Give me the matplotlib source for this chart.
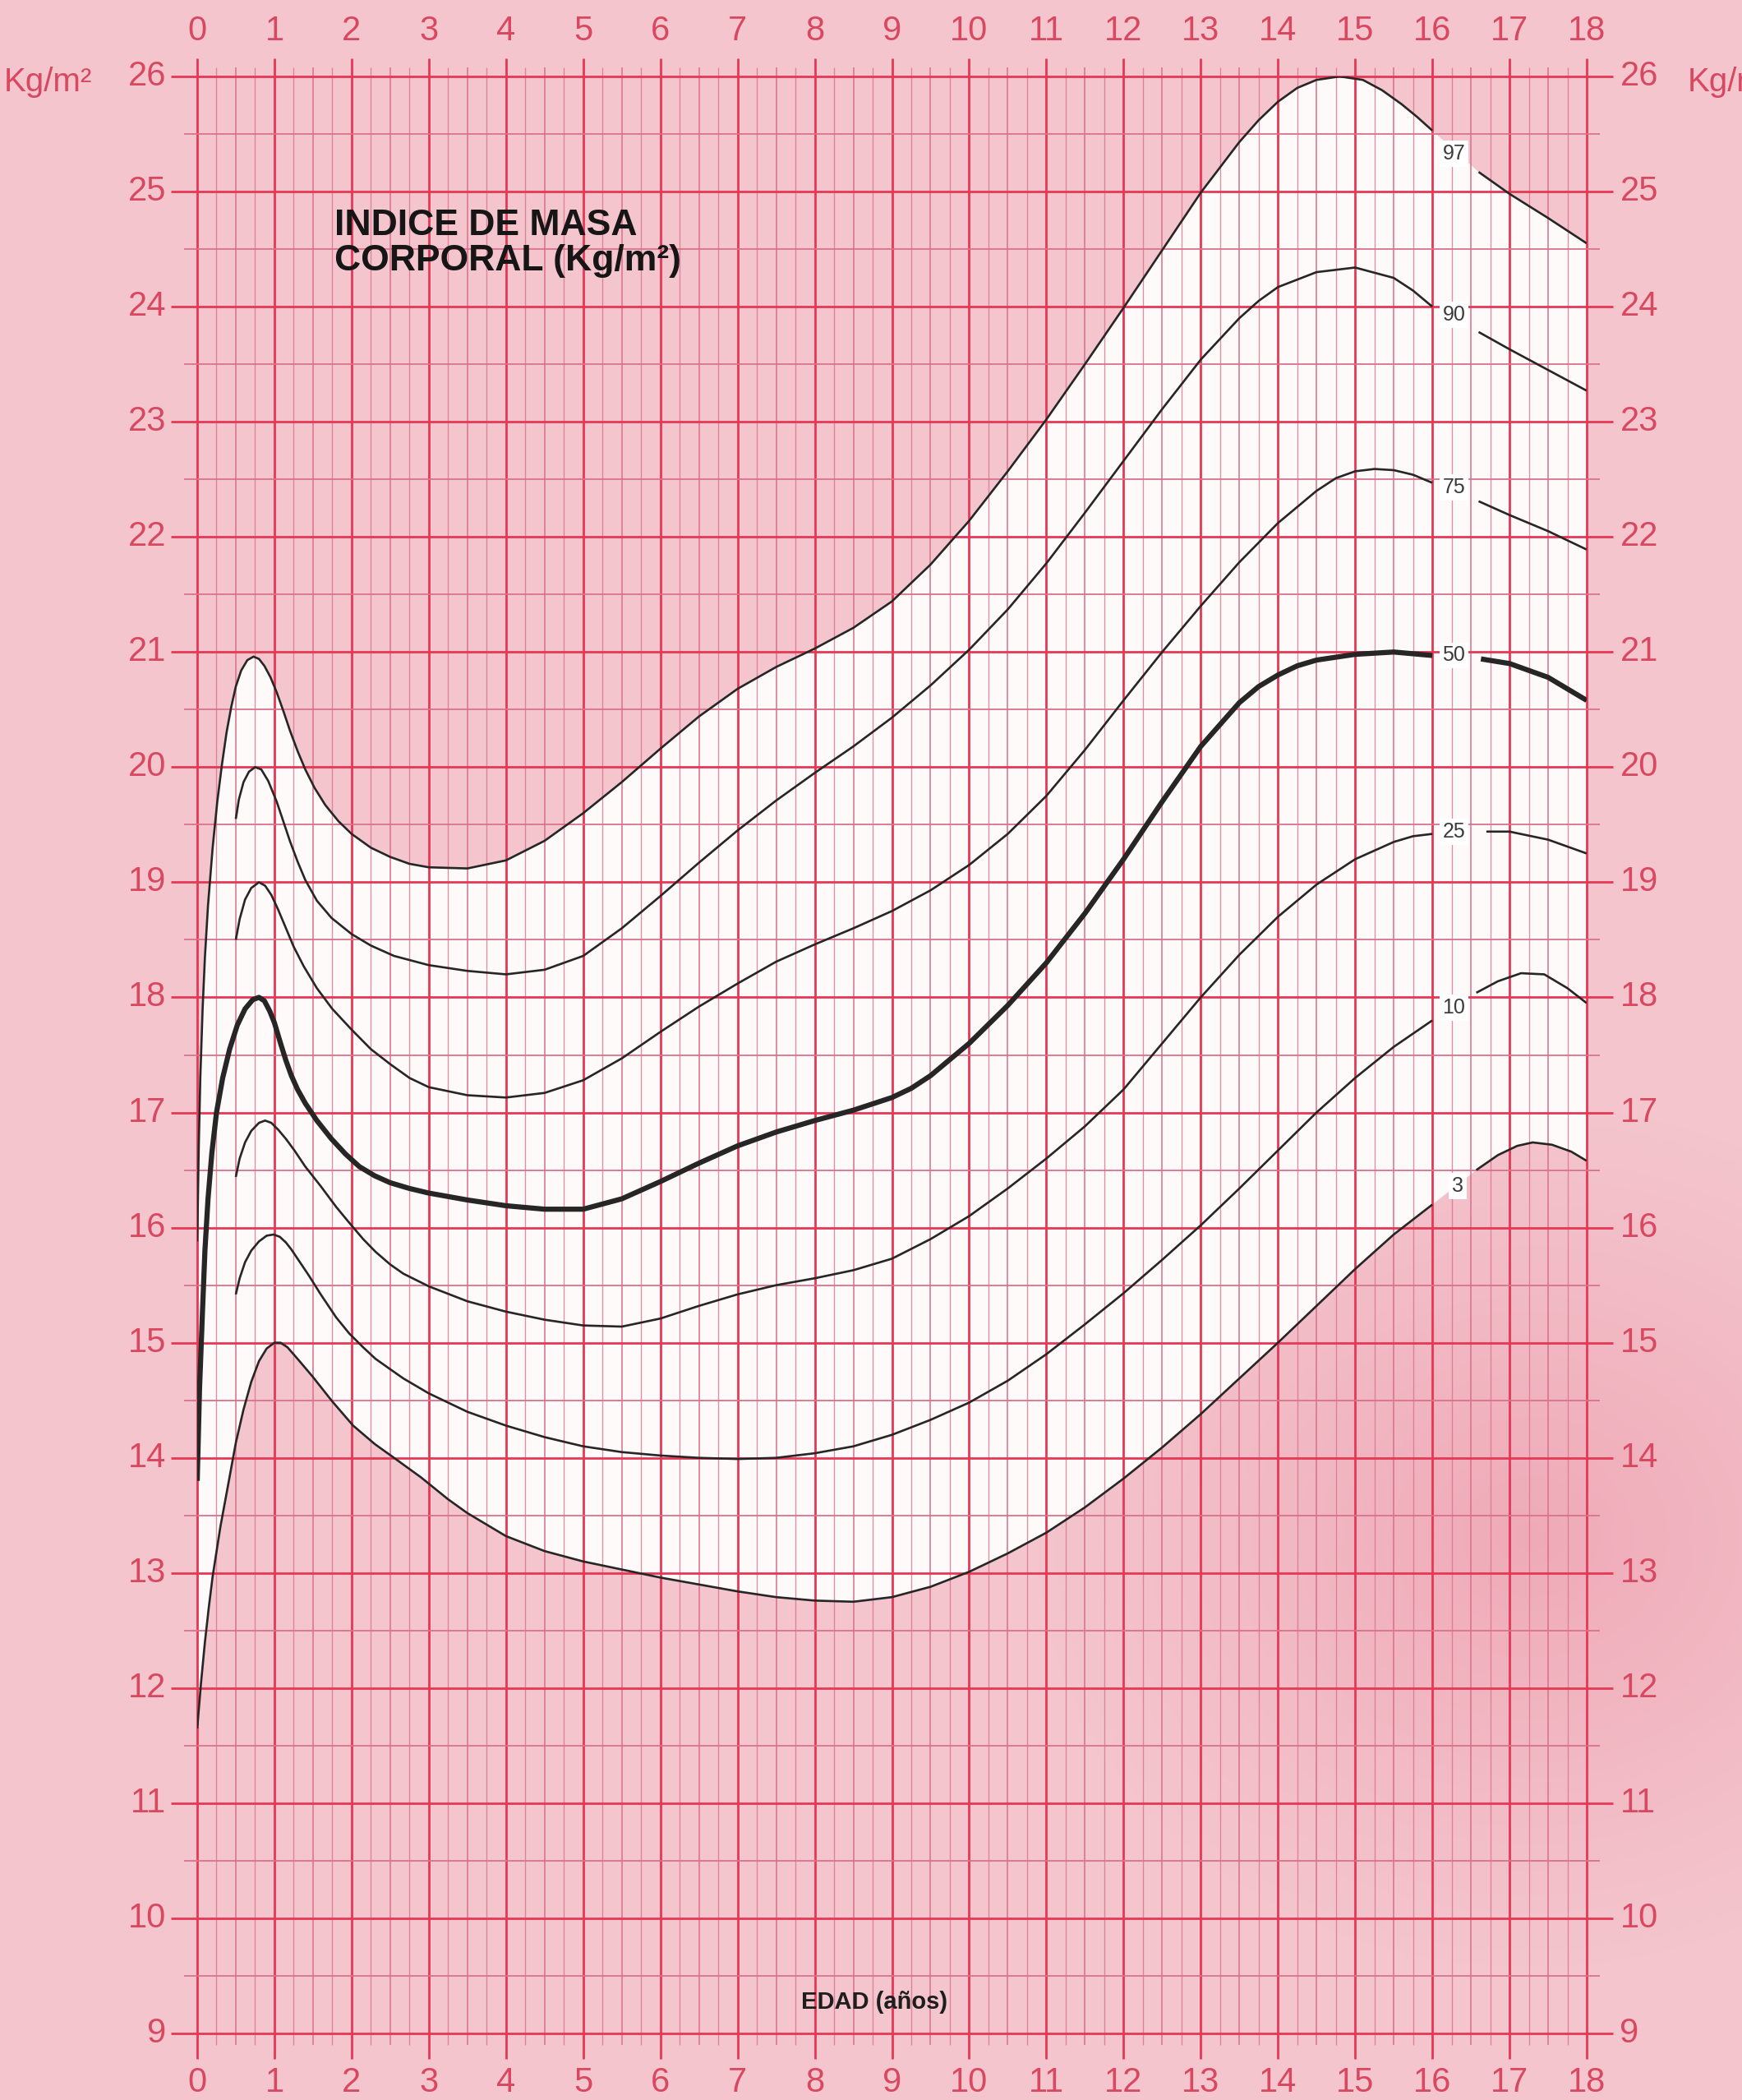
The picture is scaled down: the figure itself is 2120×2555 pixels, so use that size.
import numpy as np
import matplotlib
matplotlib.use("Agg")
import matplotlib.pyplot as plt

W, H, DPI = 2120, 2555, 100

PINK = "#f4c5cd"
PAPER = "#fffafa"
MAJOR = "#e63755"
MINOR = "#d9728a"
LABEL = "#d84860"
INK = "#262626"

nan = float("nan")

# percentiles del IMC (Kg/m2) por edad (años); nan = hueco para la etiqueta
P97_EDAD = [0, 0.02, 0.04, 0.07, 0.1, 0.14, 0.2, 0.26, 0.32, 0.38, 0.44, 0.5, 0.57,
            0.65, 0.73, 0.8, 0.87, 0.95, 1.03, 1.12, 1.2, 1.3, 1.4, 1.52, 1.66, 1.83,
            2.0, 2.25, 2.5, 2.75, 3.0, 3.5, 4.0, 4.5, 5, 5.5, 6, 6.5, 7, 7.5, 8, 8.5,
            9, 9.5, 10, 10.5, 11, 11.5, 12, 12.5, 13, 13.5, 13.75, 14, 14.25, 14.5,
            14.8, 15.1, 15.35, 15.6, 15.8, 16, 16.3, 16.6, 17, 17.5, 18]
P97_IMC = [15.88, 16.7, 17.3, 17.9, 18.35, 18.8, 19.3, 19.7, 20.02, 20.3, 20.52, 20.7,
           20.84, 20.93, 20.96, 20.94, 20.88, 20.78, 20.65, 20.48, 20.32, 20.14, 19.98,
           19.82, 19.67, 19.53, 19.42, 19.3, 19.22, 19.16, 19.13, 19.12, 19.19, 19.36,
           19.6, 19.87, 20.16, 20.44, 20.68, 20.87, 21.03, 21.21, 21.44, 21.76, 22.14,
           22.57, 23.02, 23.5, 23.99, 24.49, 24.99, 25.43, 25.62, 25.78, 25.9, 25.97,
           26.0, 25.97, 25.88, 25.76, 25.65, 25.53, nan, 25.17, 24.98, 24.77, 24.55]

P90_EDAD = [0.5, 0.54, 0.6, 0.67, 0.75, 0.83, 0.92, 1.03, 1.12, 1.2, 1.3, 1.4, 1.55,
            1.74, 2.0, 2.25, 2.55, 3.0, 3.5, 4.0, 4.5, 5, 5.5, 6, 6.5, 7, 7.5, 8, 8.5,
            9, 9.5, 10, 10.5, 11, 11.5, 12, 12.5, 13, 13.5, 13.75, 14, 14.5, 15, 15.5,
            15.75, 16, 16.3, 16.6, 17, 17.5, 18]
P90_IMC = [19.55, 19.72, 19.87, 19.96, 20.0, 19.98, 19.88, 19.7, 19.52, 19.36, 19.18,
           19.02, 18.84, 18.69, 18.55, 18.45, 18.36, 18.28, 18.23, 18.2, 18.24, 18.36,
           18.6, 18.88, 19.17, 19.45, 19.71, 19.95, 20.18, 20.43, 20.71, 21.02, 21.37,
           21.77, 22.21, 22.66, 23.11, 23.54, 23.9, 24.05, 24.17, 24.3, 24.34, 24.25,
           24.14, 24.0, nan, 23.78, 23.63, 23.45, 23.27]

P75_EDAD = [0.5, 0.55, 0.62, 0.7, 0.8, 0.88, 0.96, 1.05, 1.15, 1.25, 1.38, 1.55, 1.75,
            2.0, 2.25, 2.5, 2.75, 3.0, 3.5, 4.0, 4.5, 5, 5.5, 6, 6.5, 7, 7.5, 8, 8.5,
            9, 9.5, 10, 10.5, 11, 11.5, 12, 12.5, 13, 13.5, 14, 14.5, 14.75, 15, 15.25,
            15.5, 15.75, 16, 16.3, 16.6, 17, 17.5, 18]
P75_IMC = [18.5, 18.68, 18.85, 18.95, 19.0, 18.97, 18.89, 18.76, 18.6, 18.44, 18.27,
           18.08, 17.9, 17.72, 17.55, 17.42, 17.3, 17.22, 17.15, 17.13, 17.17, 17.28,
           17.47, 17.7, 17.92, 18.12, 18.31, 18.46, 18.6, 18.75, 18.93, 19.15, 19.42,
           19.75, 20.15, 20.58, 21.0, 21.4, 21.78, 22.12, 22.4, 22.51, 22.57, 22.59,
           22.58, 22.54, 22.47, nan, 22.31, 22.19, 22.05, 21.89]

P50_EDAD = [0, 0.03, 0.07, 0.1, 0.14, 0.19, 0.25, 0.33, 0.42, 0.52, 0.62, 0.72, 0.8,
            0.87, 0.94, 1.0, 1.08, 1.15, 1.22, 1.3, 1.4, 1.55, 1.74, 1.92, 2.1, 2.3,
            2.5, 2.75, 3.0, 3.5, 4.0, 4.5, 5, 5.5, 6, 6.5, 7, 7.5, 8, 8.5, 9, 9.25,
            9.5, 10, 10.5, 11, 11.5, 12, 12.5, 13, 13.5, 13.75, 14, 14.25, 14.5, 15,
            15.5, 16, 16.3, 16.63, 17, 17.5, 18]
P50_IMC = [13.8, 14.6, 15.3, 15.8, 16.25, 16.65, 17.0, 17.3, 17.55, 17.76, 17.9, 17.98,
           18.0, 17.97, 17.88, 17.78, 17.6, 17.45, 17.32, 17.2, 17.08, 16.93, 16.77,
           16.64, 16.53, 16.45, 16.39, 16.34, 16.3, 16.24, 16.19, 16.16, 16.16, 16.25,
           16.4, 16.56, 16.71, 16.83, 16.93, 17.02, 17.13, 17.21, 17.32, 17.6, 17.93,
           18.3, 18.73, 19.2, 19.7, 20.18, 20.56, 20.7, 20.8, 20.88, 20.93, 20.98,
           21.0, 20.97, nan, 20.94, 20.9, 20.78, 20.58]

P25_EDAD = [0.5, 0.55, 0.62, 0.7, 0.8, 0.88, 0.96, 1.05, 1.15, 1.26, 1.4, 1.6, 1.8,
            1.96, 2.15, 2.31, 2.5, 2.67, 3.0, 3.5, 4.0, 4.5, 5, 5.5, 6, 6.5, 7, 7.5,
            8, 8.5, 9, 9.5, 10, 10.5, 11, 11.5, 12, 12.5, 13, 13.5, 14, 14.5, 15,
            15.5, 15.75, 16, 16.3, 16.7, 17, 17.5, 18]
P25_IMC = [16.44, 16.6, 16.74, 16.84, 16.91, 16.93, 16.91, 16.85, 16.77, 16.67, 16.53,
           16.36, 16.18, 16.05, 15.9, 15.79, 15.68, 15.6, 15.49, 15.36, 15.27, 15.2,
           15.15, 15.14, 15.21, 15.32, 15.42, 15.5, 15.56, 15.63, 15.73, 15.9, 16.1,
           16.34, 16.6, 16.88, 17.2, 17.6, 18.0, 18.37, 18.7, 18.98, 19.2, 19.35,
           19.4, 19.42, nan, 19.44, 19.44, 19.37, 19.25]

P10_EDAD = [0.5, 0.55, 0.62, 0.7, 0.8, 0.9, 0.99, 1.07, 1.15, 1.22, 1.3, 1.45, 1.6,
            1.8, 1.97, 2.15, 2.31, 2.5, 2.67, 3.0, 3.5, 4.0, 4.5, 5, 5.5, 6, 6.5, 7,
            7.5, 8, 8.5, 9, 9.5, 10, 10.5, 11, 11.5, 12, 12.5, 13, 13.5, 14, 14.5,
            15, 15.5, 16, 16.3, 16.57, 16.85, 17.15, 17.45, 17.75, 18]
P10_IMC = [15.42, 15.56, 15.7, 15.8, 15.88, 15.93, 15.94, 15.92, 15.87, 15.81, 15.73,
           15.58, 15.42, 15.22, 15.08, 14.96, 14.86, 14.77, 14.69, 14.56, 14.4, 14.28,
           14.18, 14.1, 14.05, 14.02, 14.0, 13.99, 14.0, 14.04, 14.1, 14.2, 14.33,
           14.48, 14.67, 14.9, 15.16, 15.43, 15.72, 16.02, 16.34, 16.67, 17.0, 17.3,
           17.57, 17.8, nan, 18.04, 18.14, 18.21, 18.2, 18.08, 17.95]

P3_EDAD = [0, 0.05, 0.1, 0.15, 0.2, 0.3, 0.41, 0.5, 0.6, 0.7, 0.8, 0.9, 1.0, 1.08,
           1.17, 1.3, 1.49, 1.75, 2.02, 2.3, 2.55, 2.9, 3.25, 3.5, 4.0, 4.5, 5, 5.5,
           6, 6.5, 7, 7.5, 8, 8.5, 9, 9.5, 10, 10.5, 11, 11.5, 12, 12.5, 13, 13.5,
           14, 14.5, 15, 15.5, 16, 16.3, 16.57, 16.85, 17.1, 17.3, 17.55, 17.8, 18]
P3_IMC = [11.65, 12.05, 12.4, 12.7, 12.97, 13.4, 13.8, 14.13, 14.42, 14.66, 14.84,
          14.95, 15.0, 15.0, 14.96, 14.86, 14.71, 14.49, 14.28, 14.12, 14.0, 13.83,
          13.64, 13.52, 13.32, 13.19, 13.1, 13.03, 12.96, 12.9, 12.84, 12.79, 12.76,
          12.75, 12.79, 12.88, 13.01, 13.17, 13.35, 13.57, 13.82, 14.09, 14.38, 14.69,
          15.0, 15.32, 15.64, 15.94, 16.2, nan, 16.5, 16.63, 16.71, 16.74, 16.72,
          16.66, 16.58]

CURVAS = [("97", P97_EDAD, P97_IMC, 25.33), ("90", P90_EDAD, P90_IMC, 23.93),
          ("75", P75_EDAD, P75_IMC, 22.43), ("50", P50_EDAD, P50_IMC, 20.97),
          ("25", P25_EDAD, P25_IMC, 19.44), ("10", P10_EDAD, P10_IMC, 17.91),
          ("3", P3_EDAD, P3_IMC, 16.36)]

EDADES = list(range(0, 19))
IMC_TICKS = list(range(9, 27))

# posición del área de datos en píxeles de la figura
X0, X18 = 240, 1931
Y26, Y9 = 93, 2474

fig = plt.figure(figsize=(W / DPI, H / DPI), dpi=DPI)
fig.patch.set_facecolor(PINK)
ax = fig.add_axes([X0 / W, 1 - Y9 / H, (X18 - X0) / W, (Y9 - Y26) / H])
ax.axis("off")

# sombra del escaneo abajo a la derecha
gx, gy = np.meshgrid(np.linspace(-2.6, 20.1, 300), np.linspace(8.4, 26.7, 300))
d = np.hypot((gx - 17.3) / 6.5, (gy - 13.3) / 3.8)
shade = np.zeros(gx.shape + (4,))
shade[..., :3] = (0.91, 0.52, 0.60)
shade[..., 3] = 0.42 * np.clip(1 - d, 0, 1) ** 1.1
ax.imshow(shade, extent=(-2.6, 20.1, 8.4, 26.7), origin="lower", aspect="auto",
          interpolation="bilinear", zorder=0.5, clip_on=False)

# zona blanca entre P3 y P97
top = [(x, y) for x, y in zip(P97_EDAD, P97_IMC) if not np.isnan(y)]
bot = [(x, y) for x, y in zip(P3_EDAD, P3_IMC) if not np.isnan(y)][::-1]
poly = np.array(top + bot)
ax.fill(poly[:, 0], poly[:, 1], color=PAPER, lw=0, zorder=1)

# cuadrícula milimetrada
for v in np.arange(0, 18.001, 0.25):
    if abs(v - round(v)) < 1e-6:
        ax.plot([v, v], [8.78, 26.16], color=MAJOR, lw=2.0, zorder=2, clip_on=False,
                solid_capstyle="butt")
    else:
        strong = abs(v * 2 - round(v * 2)) < 1e-6
        ax.plot([v, v], [8.9, 26.08], color=MINOR, lw=1.2 if strong else 0.95,
                alpha=0.95 if strong else 0.8, zorder=2, clip_on=False,
                solid_capstyle="butt")
for h in np.arange(9, 26.001, 0.5):
    if abs(h - round(h)) < 1e-6:
        ax.plot([-0.34, 18.34], [h, h], color=MAJOR, lw=2.0, zorder=2, clip_on=False,
                solid_capstyle="butt")
    else:
        ax.plot([-0.17, 18.17], [h, h], color=MINOR, lw=1.3, zorder=2, clip_on=False,
                solid_capstyle="butt")

# curvas de percentiles
for name, ex, imc, ly in CURVAS:
    ax.plot(ex, imc, color=INK, lw=4.5 if name == "50" else 1.9, zorder=3,
            solid_capstyle="butt", solid_joinstyle="round")
    ax.text(16.28 if len(name) == 2 else 16.33, ly, name, ha="center", va="center",
            fontsize=18, color="#3a3a3a", family="Liberation Sans", zorder=4,
            bbox=dict(boxstyle="square,pad=0.15", fc="white", ec="none"))

# rótulos de los ejes
for e in EDADES:
    for yy in (26.39, 8.57):
        ax.text(e, yy, str(e), ha="center", va="center", fontsize=30, color=LABEL,
                family="Liberation Sans", clip_on=False)
for v in IMC_TICKS:
    ax.text(-0.40, v, str(v), ha="right", va="center", fontsize=30, color=LABEL,
            family="Liberation Sans", clip_on=False)
    ax.text(18.43, v, str(v), ha="left", va="center", fontsize=30, color=LABEL,
            family="Liberation Sans", clip_on=False)

ax.text(-1.36, 25.95, "Kg/m²", ha="right", va="center", fontsize=29, color=LABEL,
        family="Liberation Sans", clip_on=False)
ax.text(19.31, 25.95, "Kg/m²", ha="left", va="center", fontsize=29, color=LABEL,
        family="Liberation Sans", clip_on=False)

ax.text(1.78, 24.55, "INDICE DE MASA\nCORPORAL (Kg/m²)", ha="left", va="center",
        fontsize=32, fontweight="bold", color="#161616", family="Liberation Sans",
        linespacing=1.05, zorder=4)
ax.text(8.77, 9.27, "EDAD (años)", ha="center", va="center", fontsize=21,
        fontweight="bold", color="#1e1e1e", family="Liberation Sans", zorder=4)

ax.set_xlim(0, 18)
ax.set_ylim(9, 26)

fig.savefig("out.png", dpi=DPI, facecolor=PINK)
